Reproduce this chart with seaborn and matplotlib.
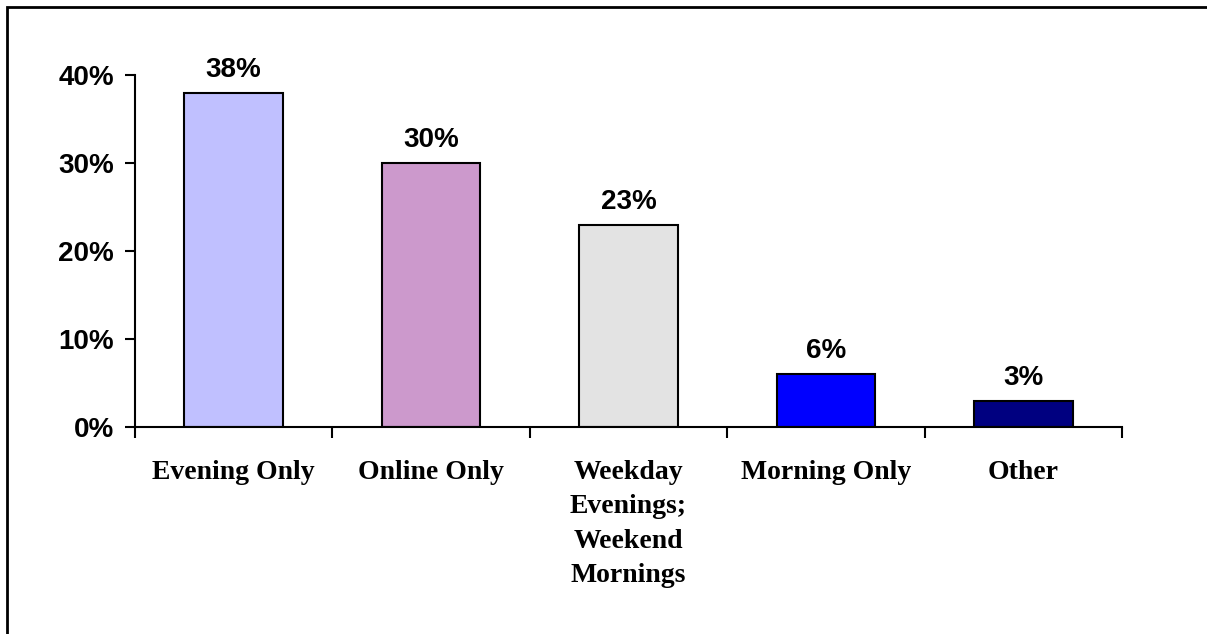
import matplotlib
matplotlib.use("Agg")
import matplotlib.pyplot as plt
from matplotlib.patches import Rectangle
from matplotlib.ticker import FuncFormatter, FixedLocator
import seaborn as sns
import pandas as pd

categories = ["Evening Only", "Online Only", "Weekday\nEvenings;\nWeekend\nMornings",
              "Morning Only", "Other"]
shares = [38, 30, 23, 6, 3]
colors = ["#C0C0FF", "#CC99CC", "#E3E3E3", "#0000FF", "#000080"]
y_ticks = [0, 10, 20, 30, 40]

sns.set_theme(style="white")
plt.rcParams["font.family"] = ["Liberation Sans", "DejaVu Sans"]
plt.rcParams["text.color"] = "black"
plt.rcParams["xtick.color"] = "black"
plt.rcParams["ytick.color"] = "black"
plt.rcParams["xtick.labelcolor"] = "black"
plt.rcParams["ytick.labelcolor"] = "black"

df = pd.DataFrame({"category": categories, "share": shares})

fig = plt.figure(figsize=(12.07, 6.34), dpi=100)
ax = fig.add_axes([135 / 1207, 1 - 427 / 634, (1122 - 135) / 1207, (427 - 75) / 634])

sns.barplot(data=df, x="category", y="share", hue="category", palette=colors,
            width=0.5, edgecolor="black", linewidth=1.5, legend=False, ax=ax,
            saturation=1)

ax.set_xlim(-0.5, len(categories) - 0.5)
ax.set_ylim(0, 40)
ax.set_xlabel("")
ax.set_ylabel("")

for s in ["top", "right"]:
    ax.spines[s].set_visible(False)
for s in ["left", "bottom"]:
    ax.spines[s].set_color("black")
    ax.spines[s].set_linewidth(1.5)

ax.yaxis.set_major_locator(FixedLocator(y_ticks))
ax.yaxis.set_major_formatter(FuncFormatter(lambda v, p: f"{v:.0f}%"))
ax.tick_params(axis="y", direction="out", length=7, width=1.5, color="black",
               left=True, labelsize=20, pad=8)
for lbl in ax.get_yticklabels():
    lbl.set_fontweight("bold")

# category labels sit between the boundary tick marks
ax.set_xticks(range(len(categories)))
ax.set_xticklabels(categories, fontfamily="Liberation Serif", fontweight="bold",
                   fontsize=20, va="top", linespacing=1.48)
ax.tick_params(axis="x", which="major", length=0, pad=24)
ax.set_xticks([i - 0.5 for i in range(len(categories) + 1)], minor=True)
ax.tick_params(axis="x", which="minor", direction="out", length=8, width=1.5,
               color="black", bottom=True)

for i, v in enumerate(shares):
    ax.annotate(f"{v}%", (i, v), xytext=(0, 11.5), textcoords="offset points",
                ha="center", va="baseline", fontsize=20, fontweight="bold")

fig.patches.append(Rectangle((7 / 1207, -0.5), 2, 0.5 + 1 - 7 / 634,
                             transform=fig.transFigure, fill=False,
                             edgecolor="black", linewidth=2))

fig.savefig("out.png", dpi=100)
